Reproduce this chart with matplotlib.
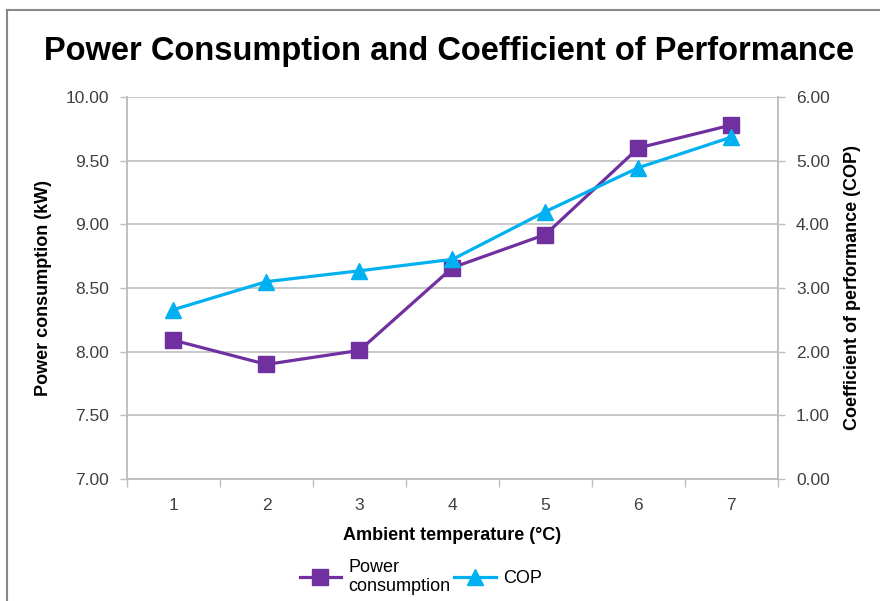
import matplotlib.pyplot as plt
from matplotlib.lines import Line2D
from matplotlib.ticker import MultipleLocator, FixedLocator

plt.rcParams['font.family'] = ['Liberation Sans', 'DejaVu Sans']

temps = [1, 2, 3, 4, 5, 6, 7]
power_kw = [8.09, 7.90, 8.01, 8.66, 8.92, 9.60, 9.78]
cop = [2.66, 3.10, 3.27, 3.45, 4.20, 4.89, 5.37]

purple = '#7030A0'
cyan = '#00B0F0'
grid_c = '#BFBFBF'

fig = plt.figure(figsize=(8.8, 6.01), dpi=100)
ax = fig.add_axes([0.1443, 0.203, 0.7397, 0.6356])
ax2 = ax.twinx()

l1, = ax.plot(temps, power_kw, color=purple, lw=2.3, marker='s', ms=11,
              label='Power\nconsumption', zorder=3)
l2, = ax2.plot(temps, cop, color=cyan, lw=2.3, marker='^', ms=11,
               label='COP', zorder=3)

ax.set_xlim(0.5, 7.5)
ax.set_ylim(7.0, 10.0)
ax2.set_ylim(0.0, 6.0)
ax.yaxis.set_major_locator(MultipleLocator(0.5))
ax2.yaxis.set_major_locator(MultipleLocator(1.0))
ax.yaxis.set_major_formatter(lambda v, p: f'{v:.2f}')
ax2.yaxis.set_major_formatter(lambda v, p: f'{v:.2f}')

ax.set_xticks(temps)
ax.set_xticklabels([str(t) for t in temps])
ax.xaxis.set_minor_locator(FixedLocator([t + 0.5 for t in range(0, 8)]))
ax.tick_params(axis='x', which='major', length=0, pad=14, labelsize=12.5, colors='#404040')
ax.tick_params(axis='x', which='minor', length=6, color=grid_c, width=1)
ax.tick_params(axis='y', length=5, color=grid_c, width=1, labelsize=12.5,
               labelcolor='#404040', pad=8)
ax2.tick_params(axis='y', length=5, color=grid_c, width=1, labelsize=12.5,
                labelcolor='#404040', pad=8)

ax.grid(axis='y', color=grid_c, lw=1.2)
ax.set_axisbelow(True)
for a in (ax, ax2):
    a.spines['top'].set_visible(False)
    for s in ('left', 'right', 'bottom'):
        a.spines[s].set_color(grid_c)
        a.spines[s].set_linewidth(1.2)

ax.set_xlabel('Ambient temperature (°C)', fontsize=13, fontweight='bold', labelpad=10)
ax.set_ylabel('Power consumption (kW)', fontsize=13, fontweight='bold', labelpad=10)
ax2.set_ylabel('Coefficient of performance (COP)', fontsize=13, fontweight='bold', labelpad=10)

fig.suptitle('Power Consumption and Coefficient of Performance', x=0.51, y=0.94,
             fontsize=23.5, fontweight='bold')

fig.legend(handles=[l1, l2], loc='center', bbox_to_anchor=(0.478, 0.04), ncol=2,
           frameon=False, fontsize=13, handlelength=2.3, columnspacing=0.2,
           handletextpad=0.4)

# outer chart border
fig.add_artist(Line2D([0.008, 0.008], [0, 0.983], color='#888888', lw=1.5,
                      transform=fig.transFigure))
fig.add_artist(Line2D([0.008, 1.0], [0.983, 0.983], color='#888888', lw=1.5,
                      transform=fig.transFigure))

fig.savefig('out.png', dpi=100)
